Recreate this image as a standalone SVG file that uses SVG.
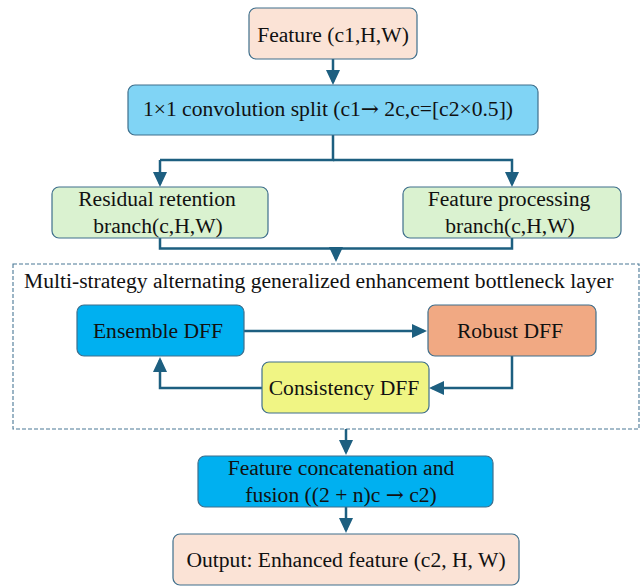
<svg xmlns="http://www.w3.org/2000/svg" width="641" height="586" viewBox="0 0 641 586">
<defs>
<marker id="ah" viewBox="0 0 15 14" refX="12" refY="7" markerWidth="15" markerHeight="14" markerUnits="userSpaceOnUse" orient="auto">
<path d="M0,0 L15,7 L0,14 z" fill="#1D5F80"/>
</marker>
</defs>
<style>
.box{stroke:#3F6F8C;stroke-width:1.2}
.t{font-family:"Liberation Serif","Times New Roman",serif;font-size:21.6px;fill:#111}
.m{text-anchor:middle}
.ar{font-family:"DejaVu Serif","DejaVu Sans",serif}
.c{fill:none;stroke:#1D5F80;stroke-width:2.5;stroke-linejoin:miter}
.a{marker-end:url(#ah)}
.dash{fill:none;stroke:#4A7896;stroke-width:1.1;stroke-dasharray:4 2}
</style>
<rect class="dash" x="13" y="264" width="626" height="165"/>
<text class="t" x="24" y="288">Multi-strategy alternating generalized enhancement bottleneck layer</text>
<g id="connectors">
<path class="c a" d="M333,59 V82"/>
<path class="c" d="M333,135 V160 H160"/>
<path class="c a" d="M160,160 V184"/>
<path class="c a" d="M333,160 H512 V184"/>
<path class="c" d="M160,237 V248.5 H512 V237"/>
<path class="c a" d="M336,248.5 V259"/>
<path class="c a" d="M244,331 H424"/>
<path class="c a" d="M512,356 V388 H432"/>
<path class="c a" d="M262,388 H160 V360"/>
<path class="c a" d="M346,429 V452"/>
<path class="c a" d="M346,507 V530"/>
</g>
<g id="feature">
<rect class="box" x="249" y="8" width="168" height="51" rx="7" fill="#FBE3D6"/>
<text class="t m" x="333" y="41.5">Feature  (c1,H,W)</text>
</g>
<g id="split">
<rect class="box" x="128" y="85" width="410" height="50" rx="7" fill="#80D4F5"/>
<text class="t m" x="328" y="116">1×1 convolution split (c1<tspan class="ar">→</tspan> 2c,c=[c2×0.5])</text>
</g>
<g id="residual">
<rect class="box" x="52" y="187" width="216" height="51" rx="7" fill="#DAF2D0"/>
<text class="t m" x="157" y="206">Residual retention</text>
<text class="t m" x="158" y="233">branch(c,H,W)</text>
</g>
<g id="processing">
<rect class="box" x="403" y="187" width="218" height="51" rx="7" fill="#DAF2D0"/>
<text class="t m" x="509" y="206">Feature processing</text>
<text class="t m" x="510" y="233">branch(c,H,W)</text>
</g>
<g id="ensemble">
<rect class="box" x="77" y="305" width="167" height="51" rx="7" fill="#00B0F0"/>
<text class="t m" x="158" y="338">Ensemble DFF</text>
</g>
<g id="robust">
<rect class="box" x="428" y="305" width="168" height="51" rx="7" fill="#F1A983"/>
<text class="t m" x="510" y="338">Robust DFF</text>
</g>
<g id="consistency">
<rect class="box" x="262" y="362" width="167" height="51" rx="7" fill="#F0F584"/>
<text class="t m" x="344" y="395">Consistency DFF</text>
</g>
<g id="fusion">
<rect class="box" x="198" y="456" width="295" height="51" rx="7" fill="#00B0F0"/>
<text class="t m" x="341" y="475">Feature concatenation and</text>
<text class="t m" x="341" y="502">fusion ((2 + n)c <tspan class="ar">→</tspan> c2)</text>
</g>
<g id="output">
<rect class="box" x="173" y="534" width="346" height="51" rx="7" fill="#FBE3D6"/>
<text class="t m" x="346" y="567">Output: Enhanced feature (c2, H, W)</text>
</g>
</svg>
